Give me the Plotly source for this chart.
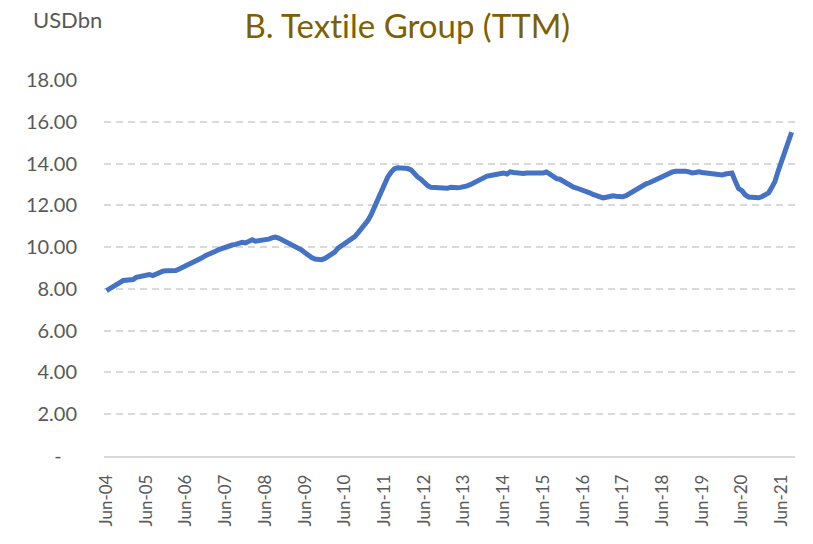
import plotly.graph_objects as go
import pandas as pd

title_text = "B. Text\u200cile Group (TTM)"
unit_label = "USDbn"

start_month = "2004-06-01"
values = [
    7.92, 8.0, 8.08, 8.16, 8.3, 8.4, 8.4, 8.4, 8.45, 8.55, 8.6, 8.65,
    8.68, 8.69, 8.64, 8.72, 8.83, 8.85, 8.87, 8.88, 8.88, 8.88, 8.95, 9.02,
    9.1, 9.2, 9.28, 9.35, 9.42, 9.5, 9.6, 9.65, 9.72, 9.8, 9.88, 9.95,
    10.0, 10.05, 10.1, 10.13, 10.18, 10.23, 10.2, 10.3, 10.35, 10.28, 10.3, 10.33,
    10.35, 10.38, 10.44, 10.48, 10.43, 10.35, 10.3, 10.23, 10.15, 10.08, 9.96, 9.86,
    9.73, 9.6, 9.5, 9.43, 9.41, 9.4, 9.46, 9.55, 9.63, 9.76, 9.95, 10.05,
    10.18, 10.3, 10.42, 10.5, 10.68, 10.88, 11.08, 11.28, 11.58, 11.92, 12.28, 12.68,
    13.02, 13.35, 13.58, 13.75, 13.8, 13.8, 13.76, 13.76, 13.7, 13.5, 13.36, 13.25,
    13.05, 12.95, 12.86, 12.84, 12.88, 12.82, 12.8, 12.82, 12.86, 12.83, 12.84, 12.86,
    12.88, 12.93, 13.0, 13.08, 13.15, 13.25, 13.35, 13.4, 13.43, 13.46, 13.5, 13.53,
    13.55, 13.5, 13.6, 13.57, 13.55, 13.57, 13.53, 13.55, 13.55, 13.53, 13.5, 13.55,
    13.55, 13.6, 13.5, 13.33, 13.28, 13.25, 13.15, 13.05, 12.95, 12.88, 12.83, 12.78,
    12.74, 12.67, 12.6, 12.52, 12.45, 12.4, 12.36, 12.39, 12.44, 12.46, 12.44, 12.41,
    12.41, 12.46, 12.56, 12.66, 12.78, 12.88, 12.95, 13.03, 13.08, 13.15, 13.25, 13.32,
    13.4, 13.47, 13.55, 13.6, 13.63, 13.65, 13.65, 13.63, 13.6, 13.55, 13.57, 13.6,
    13.57, 13.55, 13.53, 13.47, 13.45, 13.42, 13.45, 13.5, 13.53, 13.55, 13.15, 12.8,
    12.7, 12.5, 12.4, 12.37, 12.35, 12.36, 12.41, 12.5, 12.6, 12.84, 13.15, 13.65,
    14.15, 14.55, 15.05, 15.5,
]
dates = pd.date_range(start_month, periods=len(values), freq="MS")

x_tick_dates = [f"{y}-06-01" for y in range(2004, 2022)]
x_tick_labels = [f"Jun-{str(y)[2:]}" for y in range(2004, 2022)]
y_tick_vals = [0, 2, 4, 6, 8, 10, 12, 14, 16, 18]
y_tick_labels = ["-\u00a0\u00a0\u00a0", "2.00", "4.00", "6.00", "8.00", "10.00",
                 "12.00", "14.00", "16.00", "18.00"]

font_family = "Lato, 'Open Sans', sans-serif"
grey = "#595959"

fig = go.Figure()
fig.add_trace(go.Scatter(
    x=dates, y=values, mode="lines",
    line=dict(color="#4472C4", width=5, shape="linear"),
    hoverinfo="x+y", showlegend=False,
))

fig.update_layout(
    width=813, height=544,
    margin=dict(l=104, r=18, t=80, b=88),
    paper_bgcolor="white", plot_bgcolor="white",
    font=dict(family=font_family, color=grey),
    title=dict(text=title_text, x=0.501, xanchor="center", xref="container",
               y=0.952, yanchor="middle", yref="container",
               font=dict(size=33, color="#7F6000", family=font_family)),
    xaxis=dict(
        range=["2004-05-09", "2021-10-02"],
        tickmode="array", tickvals=x_tick_dates, ticktext=x_tick_labels,
        tickangle=-90, tickfont=dict(size=17, color=grey),
        showgrid=False, showline=True, linecolor="#D9D9D9", linewidth=1.5,
        ticks="", zeroline=False, automargin=False, ticklabelstandoff=10,
    ),
    yaxis=dict(
        range=[0, 18], tickmode="array", tickvals=y_tick_vals, ticktext=y_tick_labels,
        tickfont=dict(size=20, color=grey),
        showgrid=True, gridcolor="#D9D9D9", gridwidth=1.5, griddash="7px,5px",
        zeroline=False, showline=False, ticks="", ticklabelstandoff=26,
        automargin=False,
    ),
    annotations=[dict(
        text=unit_label, xref="paper", yref="paper", x=-0.0528, y=1.1596,
        xanchor="center", yanchor="middle", showarrow=False,
        font=dict(size=22, color=grey, family=font_family),
    )],
)

fig.write_html("out.html", config={"displayModeBar": False},
               post_script="document.body.style.margin='0';")
